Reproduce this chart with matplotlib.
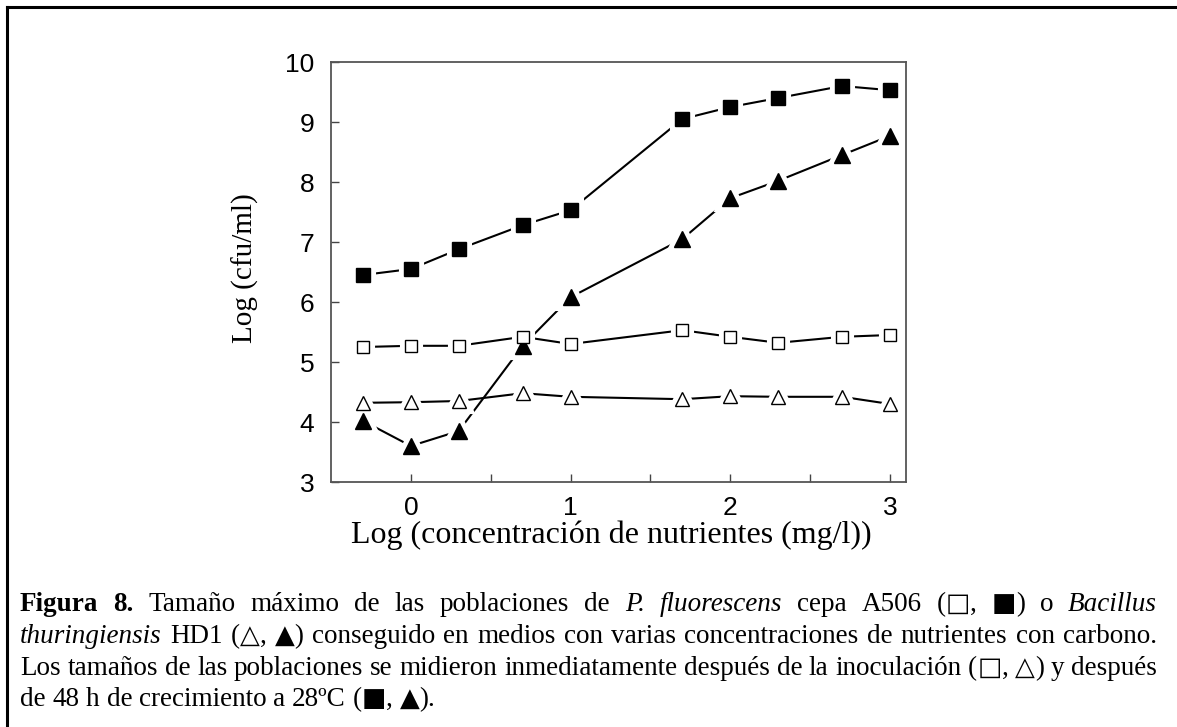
import matplotlib
matplotlib.use("Agg")
import matplotlib.pyplot as plt
from matplotlib.lines import Line2D

# === Data ===
log_conc = [-0.3, 0.0, 0.3, 0.7, 1.0, 1.7, 2.0, 2.3, 2.7, 3.0]
pf_48h = [6.45, 6.55, 6.88, 7.28, 7.53, 9.05, 9.25, 9.40, 9.60, 9.53]
bt_48h = [4.02, 3.60, 3.85, 5.27, 6.08, 7.05, 7.73, 8.02, 8.45, 8.77]
pf_t0 = [5.25, 5.27, 5.27, 5.42, 5.30, 5.53, 5.42, 5.32, 5.42, 5.45]
bt_t0 = [4.32, 4.33, 4.35, 4.48, 4.42, 4.38, 4.43, 4.42, 4.42, 4.30]

x_ticks = [0, 1, 2, 3]
y_ticks = [3, 4, 5, 6, 7, 8, 9, 10]
x_label = "Log (concentración de nutrientes (mg/l))"
y_label = "Log (cfu/ml)"

# caption runs: r = regular, b = bold, i = italic, s = symbol
caption_lines = [
    [("Figura 8.", "b"), (" Tamaño máximo de las poblaciones de ", "r"),
     ("P. fluorescens", "i"), (" cepa A506 (", "r"), ("□", "s"), (", ", "r"),
     ("■", "s"), (") o ", "r"), ("Bacillus", "i")],
    [("thuringiensis", "i"), (" HD1 (", "r"), ("△", "s"), (", ", "r"), ("▲", "s"),
     (") conseguido en medios con varias concentraciones de nutrientes con carbono.", "r")],
    [("Los tamaños de las poblaciones se midieron inmediatamente después de la inoculación (", "r"),
     ("□", "s"), (", ", "r"), ("△", "s"), (") y después", "r")],
    [("de 48 h de crecimiento a 28ºC (", "r"), ("■", "s"), (", ", "r"), ("▲", "s"), (").", "r")],
]

W, H = 1177, 727
fig = plt.figure(figsize=(W / 100, H / 100), dpi=100)
fig.patch.set_facecolor("white")

# === Chart ===
ax = fig.add_axes([331 / W, 1 - 482 / H, 575 / W, 420 / H])

series = [
    (pf_48h, "s", 10, "black"),
    (bt_48h, "^", 11, "black"),
    (pf_t0, "s", 9, "white"),
    (bt_t0, "^", 10, "white"),
]
for ys, m, ms, fill in series:
    ax.plot(log_conc, ys, color="black", lw=1.5, zorder=1)
    ax.plot(log_conc, ys, ls="none", marker=m, ms=ms, mfc="white",
            mec="white", mew=8, zorder=2)
    ax.plot(log_conc, ys, ls="none", marker=m, ms=ms, mfc=fill,
            mec="black", mew=1, zorder=3)

ax.set_xlim(-0.5, 3.1)
ax.set_ylim(3, 10)
ax.set_xticks(x_ticks)
ax.set_xticks([0.5, 1.5, 2.5], minor=True)
ax.set_yticks(y_ticks)

tick_font = {"family": "Liberation Sans", "size": 19}
ax.set_xticklabels([str(t) for t in x_ticks], fontdict=tick_font)
ax.set_yticklabels([str(t) for t in y_ticks], fontdict=tick_font)
ax.tick_params(axis="both", which="both", direction="in", length=6,
               width=1, color="#444444")
ax.tick_params(axis="x", which="major", pad=10)
ax.tick_params(axis="y", which="major", pad=12)

for sp in ax.spines.values():
    sp.set_color("#555555")
    sp.set_linewidth(1.3)

ax.set_xlabel(x_label, family="Liberation Serif", size=23)
ax.xaxis.set_label_coords(0.487, -0.092)
ax.set_ylabel(y_label, family="Liberation Serif", size=21)
ax.yaxis.set_label_coords(-0.125, 0.51)

# === Frame (top and left edges) ===
fig.add_artist(Line2D([7 / W, 7 / W], [0, 1 - 7 / H], transform=fig.transFigure,
                      color="black", lw=2.2))
fig.add_artist(Line2D([7 / W, 1], [1 - 7 / H, 1 - 7 / H], transform=fig.transFigure,
                      color="black", lw=2.2))

# === Caption, justified ===
renderer = fig.canvas.get_renderer()
cap_size = 19.5
serif = ["Liberation Serif", "DejaVu Sans"]
styles = {
    "r": {"family": serif},
    "b": {"family": serif, "weight": "bold"},
    "i": {"family": serif, "style": "italic"},
    "s": {"family": ["DejaVu Sans"], "size": cap_size * 0.95},
}
left, right = 20, 1157
baselines = [611, 643, 675, 706]


def piece_width(text, st):
    kw = {"size": cap_size}
    kw.update(styles[st])
    t = fig.text(0, 0, text, **kw)
    w = t.get_window_extent(renderer).width
    t.remove()
    return w


space_w = piece_width("x x", "r") - piece_width("xx", "r")

for i, line in enumerate(caption_lines):
    words = [[]]
    for text, st in line:
        for j, p in enumerate(text.split(" ")):
            if j > 0:
                words.append([])
            if p:
                words[-1].append((p, st, piece_width(p, st)))
    words = [w for w in words if w]
    total = sum(pw for w in words for _, _, pw in w)
    if i < len(caption_lines) - 1:
        gap = (right - left - total) / (len(words) - 1)
    else:
        gap = space_w
    xpos = left
    for w in words:
        for p, st, pw in w:
            kw = {"size": cap_size}
            kw.update(styles[st])
            fig.text(xpos / W, 1 - baselines[i] / H, p, va="baseline",
                     ha="left", **kw)
            xpos += pw
        xpos += gap

fig.savefig("out.png", dpi=100)
